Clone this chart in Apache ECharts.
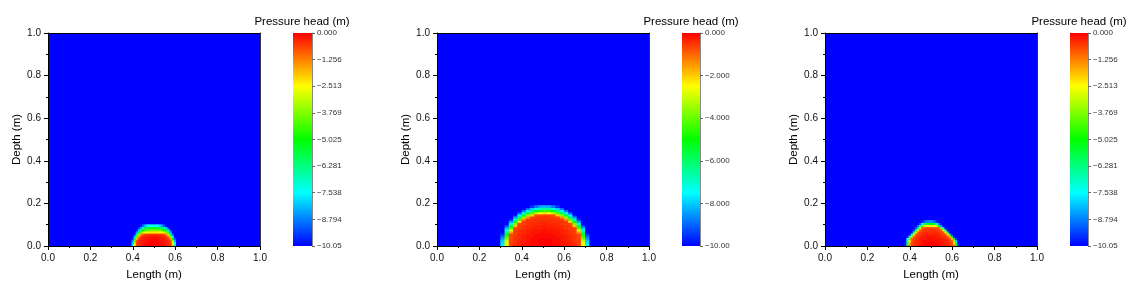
<!DOCTYPE html>
<html><head><meta charset="utf-8">
<script src="https://cdn.jsdelivr.net/npm/echarts@6/dist/echarts.min.js"></script>
<style>html,body{margin:0;padding:0;background:#fff}#c{width:1142px;height:286px}</style>
</head><body><div id="c"></div><script>
// ---------- DATA ----------
const axisTickLabels = ['0.0','0.2','0.4','0.6','0.8','1.0'];
const xAxisTitle = 'Length (m)';
const yAxisTitle = 'Depth (m)';
const colorbarTitle = 'Pressure head (m)';

// Panel 1
const p1Range = [-10.05, 0];
const p1Background = -10.05;
const p1TickLabels = ['\u221210.05','\u22128.794','\u22127.538','\u22126.281','\u22125.025','\u22123.769','\u22122.513','\u22121.256','0.000'];
const p1X = [0.39,0.40,0.41,0.42,0.43,0.44,0.45,0.46,0.47,0.48,0.49,0.50,0.51,0.52,0.53,0.54,0.55,0.56,0.57,0.58,0.59,0.60,0.61];
const p1Y = [0.005,0.015,0.025,0.035,0.045,0.055,0.065,0.075,0.085,0.095];
const p1Rows = [
 [-10.05,-7.8,-2.4,-0.6,-0.4,-0.3,-0.2,-0.1,-0.1,0,0,0,0,0,-0.1,-0.1,-0.2,-0.3,-0.4,-0.6,-2.0,-7.0,-10.05],
 [-10.05,-8.2,-3.2,-0.6,-0.4,-0.3,-0.2,-0.1,-0.1,0,0,0,0,0,-0.1,-0.1,-0.2,-0.3,-0.4,-0.6,-2.6,-7.5,-10.05],
 [-10.05,-8.8,-4.0,-0.8,-0.4,-0.3,-0.2,-0.2,-0.1,-0.1,0,0,0,-0.1,-0.1,-0.2,-0.2,-0.3,-0.4,-0.8,-3.4,-8.2,-10.05],
 [-10.05,-9.6,-5.8,-1.8,-0.6,-0.4,-0.3,-0.2,-0.2,-0.1,-0.1,-0.1,-0.1,-0.1,-0.2,-0.2,-0.3,-0.4,-0.6,-1.6,-5.0,-9.2,-10.05],
 [-10.05,-10.05,-8.0,-4.0,-1.4,-0.6,-0.4,-0.3,-0.3,-0.2,-0.2,-0.2,-0.2,-0.2,-0.3,-0.3,-0.4,-0.6,-1.3,-3.6,-7.4,-10.05,-10.05],
 [-10.05,-10.05,-9.6,-6.5,-3.5,-1.5,-0.8,-0.6,-0.5,-0.5,-0.5,-0.5,-0.5,-0.5,-0.5,-0.6,-0.8,-1.4,-3.2,-6.0,-9.2,-10.05,-10.05],
 [-10.05,-10.05,-10.05,-8.5,-6.0,-4.0,-3.0,-2.6,-2.4,-2.3,-2.3,-2.3,-2.3,-2.3,-2.4,-2.6,-3.0,-3.8,-5.6,-8.2,-10.05,-10.05,-10.05],
 [-10.05,-10.05,-10.05,-9.8,-8.0,-6.2,-5.0,-4.4,-4.0,-3.9,-3.8,-3.8,-3.8,-3.9,-4.0,-4.4,-5.0,-6.0,-7.8,-9.6,-10.05,-10.05,-10.05],
 [-10.05,-10.05,-10.05,-10.05,-9.6,-8.2,-7.0,-6.0,-5.6,-5.4,-5.3,-5.3,-5.3,-5.4,-5.6,-6.0,-6.8,-8.0,-9.5,-10.05,-10.05,-10.05,-10.05],
 [-10.05,-10.05,-10.05,-10.05,-10.05,-9.8,-9.0,-8.2,-7.6,-7.4,-7.3,-7.3,-7.4,-7.6,-8.0,-8.6,-9.4,-10.05,-10.05,-10.05,-10.05,-10.05,-10.05]
];

// Panel 2
const p2Range = [-10, 0];
const p2Background = -10;
const p2TickLabels = ['\u221210.00','\u22128.000','\u22126.000','\u22124.000','\u22122.000','0.000'];
const p2X = [0.29,0.31,0.33,0.35,0.37,0.39,0.41,0.43,0.45,0.47,0.49,0.51,0.53,0.55,0.57,0.59,0.61,0.63,0.65,0.67,0.69,0.71,0.73];
const p2Y = [0.005,0.015,0.025,0.035,0.045,0.055,0.065,0.075,0.085,0.095,0.105,0.115,0.125,0.135,0.145,0.155,0.165,0.175,0.185];
const p2Rows = [
 [-10,-7.6,-2.5,-0.6,-0.4,-0.3,-0.2,-0.2,-0.1,-0.1,0,0,0,-0.1,-0.1,-0.2,-0.2,-0.3,-0.4,-0.6,-2.5,-7.6,-10],
 [-10,-7.8,-2.7,-0.6,-0.4,-0.3,-0.2,-0.2,-0.1,-0.1,0,0,0,-0.1,-0.1,-0.2,-0.2,-0.3,-0.4,-0.6,-2.7,-7.8,-10],
 [-10,-8,-3.1,-0.6,-0.5,-0.3,-0.3,-0.2,-0.1,-0.1,0,0,0,-0.1,-0.1,-0.2,-0.3,-0.3,-0.5,-0.6,-3.1,-8,-10],
 [-10,-8.4,-3.7,-0.7,-0.5,-0.4,-0.3,-0.2,-0.1,-0.1,0,0,0,-0.1,-0.1,-0.2,-0.3,-0.4,-0.5,-0.7,-3.7,-8.4,-10],
 [-10,-8.9,-4.4,-0.7,-0.5,-0.4,-0.3,-0.2,-0.2,-0.1,-0.1,-0.1,-0.1,-0.1,-0.2,-0.2,-0.3,-0.4,-0.5,-0.7,-4.4,-8.9,-10],
 [-10,-9.5,-5.3,-0.7,-0.6,-0.4,-0.3,-0.3,-0.2,-0.1,-0.1,-0.1,-0.1,-0.1,-0.2,-0.3,-0.3,-0.4,-0.6,-0.7,-5.3,-9.5,-10],
 [-10,-10,-6.2,-1.6,-0.6,-0.5,-0.4,-0.3,-0.2,-0.2,-0.2,-0.1,-0.2,-0.2,-0.2,-0.3,-0.4,-0.5,-0.6,-1.6,-6.2,-10,-10],
 [-10,-10,-7.2,-2.9,-0.6,-0.5,-0.4,-0.3,-0.3,-0.2,-0.2,-0.2,-0.2,-0.2,-0.3,-0.3,-0.4,-0.5,-0.6,-2.9,-7.2,-10,-10],
 [-10,-10,-8.2,-4.4,-0.7,-0.6,-0.5,-0.4,-0.3,-0.3,-0.3,-0.2,-0.3,-0.3,-0.3,-0.4,-0.5,-0.6,-0.7,-4.4,-8.2,-10,-10],
 [-10,-10,-9.2,-5.7,-1.9,-0.6,-0.5,-0.4,-0.4,-0.3,-0.3,-0.3,-0.3,-0.3,-0.4,-0.4,-0.5,-0.6,-1.9,-5.7,-9.2,-10,-10],
 [-10,-10,-10,-7.1,-3.7,-0.7,-0.6,-0.5,-0.4,-0.4,-0.4,-0.3,-0.4,-0.4,-0.4,-0.5,-0.6,-0.7,-3.7,-7.1,-10,-10,-10],
 [-10,-10,-10,-8.4,-5.4,-2.2,-0.6,-0.5,-0.5,-0.5,-0.4,-0.4,-0.4,-0.5,-0.5,-0.5,-0.6,-2.2,-5.4,-8.4,-10,-10,-10],
 [-10,-10,-10,-9.6,-6.9,-4.2,-1.4,-0.6,-0.5,-0.5,-0.5,-0.5,-0.5,-0.5,-0.5,-0.6,-1.4,-4.2,-6.9,-9.6,-10,-10,-10],
 [-10,-10,-10,-10,-8.4,-5.9,-3.6,-1.4,-0.6,-0.6,-0.5,-0.5,-0.5,-0.6,-0.6,-1.4,-3.6,-5.9,-8.4,-10,-10,-10,-10],
 [-10,-10,-10,-10,-9.8,-7.6,-5.5,-3.6,-2.0,-0.7,-0.7,-0.6,-0.7,-0.7,-2.0,-3.6,-5.5,-7.6,-9.8,-10,-10,-10,-10],
 [-10,-10,-10,-10,-10,-9.1,-7.3,-5.6,-4.2,-3.1,-2.5,-2.2,-2.5,-3.1,-4.2,-5.6,-7.3,-9.1,-10,-10,-10,-10,-10],
 [-10,-10,-10,-10,-10,-10,-8.8,-7.4,-6.2,-5.2,-4.7,-4.4,-4.7,-5.2,-6.2,-7.4,-8.8,-10,-10,-10,-10,-10,-10],
 [-10,-10,-10,-10,-10,-10,-10,-8.9,-8,-7.1,-6.6,-6.5,-6.6,-7.1,-8,-8.9,-10,-10,-10,-10,-10,-10,-10],
 [-10,-10,-10,-10,-10,-10,-10,-10,-9.5,-8.8,-8.3,-8.2,-8.3,-8.8,-9.5,-10,-10,-10,-10,-10,-10,-10,-10]
];

// Panel 3
const p3Range = [-10.05, 0];
const p3Background = -10.05;
const p3TickLabels = ['\u221210.05','\u22128.794','\u22127.538','\u22126.281','\u22125.025','\u22123.769','\u22122.513','\u22121.256','0.000'];
const p3X = [0.37,0.38,0.39,0.40,0.41,0.42,0.43,0.44,0.45,0.46,0.47,0.48,0.49,0.50,0.51,0.52,0.53,0.54,0.55,0.56,0.57,0.58,0.59,0.60,0.61,0.62,0.63,0.64];
const p3Y = [0.005,0.015,0.025,0.035,0.045,0.055,0.065,0.075,0.085,0.095,0.105,0.115];
const p3Rows = [
 [-10.05,-9.8,-5.7,-1.4,-0.7,-0.5,-0.4,-0.3,-0.2,-0.2,-0.1,0,0,0,0,0,0,-0.1,-0.2,-0.2,-0.3,-0.4,-0.5,-0.7,-1.4,-5.4,-9.5,-10.05],
 [-10.05,-9.9,-6.1,-1.9,-0.7,-0.5,-0.4,-0.3,-0.2,-0.2,-0.1,-0.1,0,0,0,0,-0.1,-0.1,-0.2,-0.2,-0.3,-0.4,-0.5,-0.8,-2.3,-6.5,-9.9,-10.05],
 [-10.05,-10.05,-6.7,-2.6,-0.9,-0.6,-0.4,-0.3,-0.3,-0.2,-0.1,-0.1,-0.1,-0.1,-0.1,-0.1,-0.1,-0.2,-0.2,-0.3,-0.3,-0.4,-0.6,-0.9,-3.8,-7.9,-10.05,-10.05],
 [-10.05,-10.05,-7.5,-3.7,-0.9,-0.7,-0.5,-0.4,-0.3,-0.2,-0.2,-0.2,-0.1,-0.1,-0.1,-0.2,-0.2,-0.2,-0.3,-0.3,-0.4,-0.6,-0.8,-1.8,-5.7,-9.5,-10.05,-10.05],
 [-10.05,-10.05,-9.9,-6.8,-3.0,-0.9,-0.6,-0.5,-0.4,-0.3,-0.3,-0.2,-0.2,-0.2,-0.2,-0.2,-0.3,-0.3,-0.4,-0.5,-0.6,-0.8,-1.8,-5.7,-9.8,-10.05,-10.05,-10.05],
 [-10.05,-10.05,-10.05,-9.9,-6.4,-2.5,-0.8,-0.6,-0.5,-0.4,-0.3,-0.3,-0.3,-0.3,-0.3,-0.3,-0.3,-0.4,-0.5,-0.6,-0.8,-2.2,-6.0,-9.9,-10.05,-10.05,-10.05,-10.05],
 [-10.05,-10.05,-10.05,-10.05,-9.9,-6.2,-2.4,-0.9,-0.7,-0.5,-0.4,-0.4,-0.4,-0.4,-0.4,-0.4,-0.4,-0.5,-0.7,-0.9,-2.5,-6.4,-10.05,-10.05,-10.05,-10.05,-10.05,-10.05],
 [-10.05,-10.05,-10.05,-10.05,-10.05,-9.5,-5.9,-2.4,-0.9,-0.7,-0.6,-0.5,-0.5,-0.5,-0.5,-0.5,-0.6,-0.7,-0.9,-3.0,-6.8,-9.9,-10.05,-10.05,-10.05,-10.05,-10.05,-10.05],
 [-10.05,-10.05,-10.05,-10.05,-10.05,-10.05,-9.2,-5.9,-2.6,-1.0,-0.8,-0.7,-0.7,-0.7,-0.7,-0.7,-0.8,-1.0,-3.6,-7.3,-10.05,-10.05,-10.05,-10.05,-10.05,-10.05,-10.05,-10.05],
 [-10.05,-10.05,-10.05,-10.05,-10.05,-10.05,-10.05,-9.0,-6.5,-4.2,-3.0,-2.5,-2.3,-2.3,-2.3,-2.5,-3.2,-5.2,-8.5,-10.05,-10.05,-10.05,-10.05,-10.05,-10.05,-10.05,-10.05,-10.05],
 [-10.05,-10.05,-10.05,-10.05,-10.05,-10.05,-10.05,-10.05,-9.2,-7.5,-6.2,-5.6,-5.4,-5.4,-5.4,-5.7,-6.6,-8.8,-10.05,-10.05,-10.05,-10.05,-10.05,-10.05,-10.05,-10.05,-10.05,-10.05],
 [-10.05,-10.05,-10.05,-10.05,-10.05,-10.05,-10.05,-10.05,-10.05,-9.8,-9.2,-8.8,-8.6,-8.6,-8.7,-9.2,-9.8,-10.05,-10.05,-10.05,-10.05,-10.05,-10.05,-10.05,-10.05,-10.05,-10.05,-10.05]
];

// ---------- BUILD ----------
const rainbow = ['#0000ff','#00ffff','#00ff00','#ffff00','#ff0000'];
const FONT = 'Liberation Sans, Arial, sans-serif';
const panels = [
  {xs:p1X, ys:p1Y, rows:p1Rows, bg:p1Background, range:p1Range, ticks:p1TickLabels},
  {xs:p2X, ys:p2Y, rows:p2Rows, bg:p2Background, range:p2Range, ticks:p2TickLabels},
  {xs:p3X, ys:p3Y, rows:p3Rows, bg:p3Background, range:p3Range, ticks:p3TickLabels}
];
const layout = [
  {gx:48,  cbx:293,  cbw:19, tx:302},
  {gx:437, cbx:682,  cbw:18, tx:691},
  {gx:825, cbx:1070, cbw:18, tx:1079}
];
const TOP = 33, H = 213, W = 212;

const grid = [], xAxis = [], yAxis = [], series = [], visualMap = [], graphic = [];
const nPanels = panels.length;
panels.forEach((p, i) => {
  const L = layout[i];
  const g = grid.length;
  grid.push({left:L.gx, top:TOP, width:W, height:H, containLabel:false});
  grid.push({left:L.cbx, top:TOP, width:L.cbw, height:H, containLabel:false});
  const axisCommon = {
    type:'value', min:0, max:1, interval:0.2, z:5,
    axisLine:{show:true, onZero:false, lineStyle:{color:'#000', width:1}},
    axisTick:{show:true, inside:false, length:4, lineStyle:{color:'#000'}},
    minorTick:{show:true, splitNumber:2, length:2, lineStyle:{color:'#000'}},
    axisLabel:{fontSize:10, color:'#111', fontFamily:FONT, margin:7,
      formatter:v => axisTickLabels[Math.round(v/0.2)]},
    splitLine:{show:false},
    nameLocation:'middle',
    nameTextStyle:{fontSize:11.5, color:'#000', fontFamily:FONT}
  };
  const xi = xAxis.length, yi = yAxis.length;
  xAxis.push(Object.assign({}, axisCommon, {gridIndex:g, position:'bottom', name:xAxisTitle, nameGap:23}));
  xAxis.push({gridIndex:g, type:'value', min:0, max:1, position:'top', z:5,
    axisLine:{show:true, onZero:false, lineStyle:{color:'#000'}}, axisTick:{show:false}, axisLabel:{show:false}, splitLine:{show:false}});
  xAxis.push({gridIndex:g+1, type:'value', min:0, max:1, show:false});
  yAxis.push(Object.assign({}, axisCommon, {gridIndex:g, position:'left', name:yAxisTitle, nameGap:25}));
  yAxis.push({gridIndex:g, type:'value', min:0, max:1, position:'right', z:5,
    axisLine:{show:true, onZero:false, lineStyle:{color:'#333'}}, axisTick:{show:false}, axisLabel:{show:false}, splitLine:{show:false}});
  const iv = (p.range[1]-p.range[0])/(p.ticks.length-1);
  yAxis.push({gridIndex:g+1, type:'value', min:p.range[0], max:p.range[1], interval:iv, position:'right', z:6,
    axisLine:{show:true, onZero:false, lineStyle:{color:'#888'}},
    axisTick:{show:true, inside:false, length:3, lineStyle:{color:'#666'}},
    axisLabel:{fontSize:8, color:'#333', fontFamily:FONT, margin:5,
      formatter:v => p.ticks[Math.round((v-p.range[0])/iv)]},
    splitLine:{show:false}});

  const hw = (p.xs[1]-p.xs[0])/2, hh = (p.ys[1]-p.ys[0])/2;
  const data = [[0.5, 0.5, p.bg, 0.5, 0.5]];
  p.rows.forEach((row, r) => row.forEach((v, c) => data.push([p.xs[c], p.ys[r], v, hw, hh])));
  series.push({
    type:'custom', xAxisIndex:xi, yAxisIndex:yi, clip:true, z:2,
    dimensions:['x','y','v','hw','hh'], encode:{x:0, y:1},
    renderItem:(params, api) => {
      const x = api.value(0), y = api.value(1), a = api.value(3), b = api.value(4);
      const p0 = api.coord([x-a, y-b]), p1 = api.coord([x+a, y+b]);
      return {type:'rect', shape:{x:p0[0]-0.3, y:p1[1]-0.3, width:p1[0]-p0[0]+0.6, height:p0[1]-p1[1]+0.6},
        style:{fill:api.visual('color')}};
    },
    data
  });
  visualMap.push({
    type:'continuous', seriesIndex:i, dimension:2, min:p.range[0], max:p.range[1],
    inRange:{color:rainbow}, show:false
  });
  graphic.push({type:'text', x:L.tx, y:22, style:{text:colorbarTitle, textAlign:'center', textVerticalAlign:'middle',
    fontSize:11.5, fontFamily:FONT, fill:'#000'}});
});
// colour bars: one gradient rect spanning each panel's value range, drawn in the colour-bar grid
panels.forEach((p, i) => {
  series.push({
    type:'custom', xAxisIndex:3*i+2, yAxisIndex:3*i+2, clip:false, z:2, silent:true,
    renderItem:(params, api) => {
      const p0 = api.coord([0, api.value(0)]), p1 = api.coord([1, api.value(1)]);
      return {type:'rect', shape:{x:p0[0], y:p1[1], width:p1[0]-p0[0], height:p0[1]-p1[1]},
        style:{fill:new echarts.graphic.LinearGradient(0, 1, 0, 0,
          rainbow.map((c, k) => ({offset:k/(rainbow.length-1), color:c})))}};
    },
    data:[[p.range[0], p.range[1]]]
  });
});

const chart = echarts.init(document.getElementById('c'), null, {renderer:'canvas'});
chart.setOption({animation:false, backgroundColor:'#fff', textStyle:{fontFamily:FONT},
  grid, xAxis, yAxis, series, visualMap, graphic});
</script></body></html>
